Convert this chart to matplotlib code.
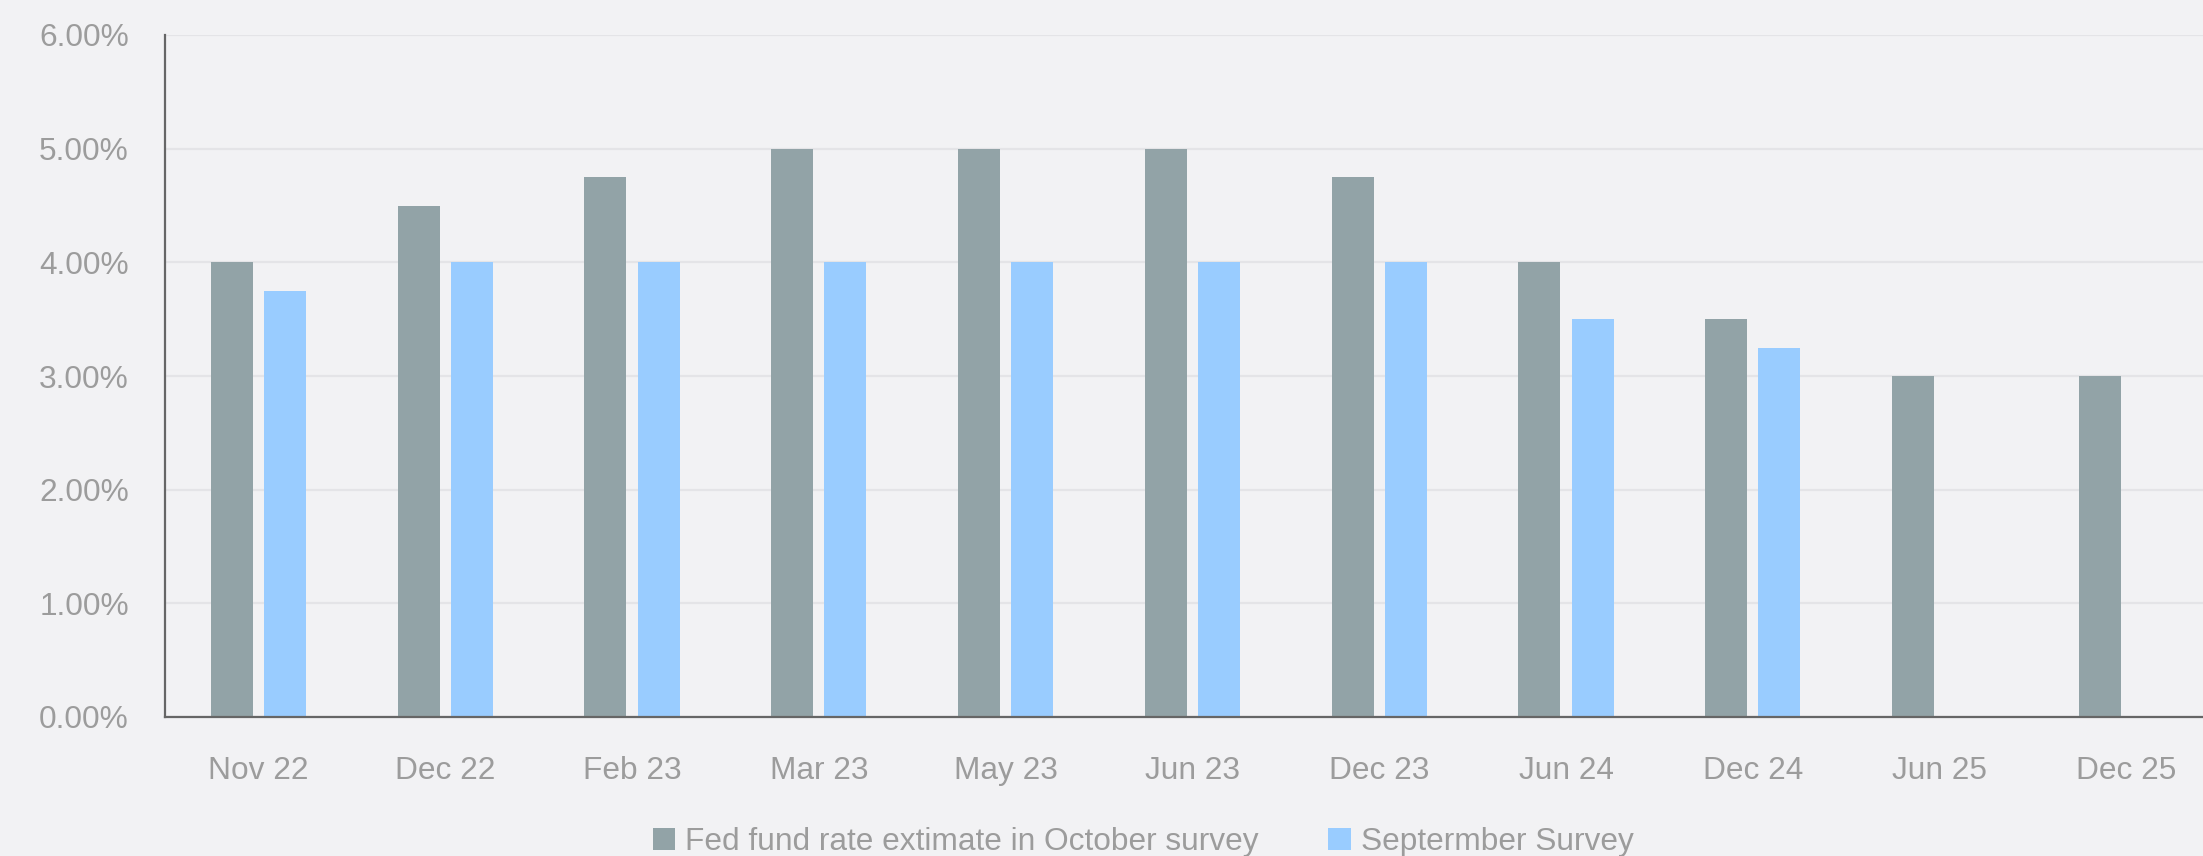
import matplotlib
matplotlib.use("Agg")
import matplotlib.pyplot as plt
from matplotlib.patches import Patch
from matplotlib.ticker import FuncFormatter
import numpy as np

categories = ["Nov 22", "Dec 22", "Feb 23", "Mar 23", "May 23", "Jun 23",
              "Dec 23", "Jun 24", "Dec 24", "Jun 25", "Dec 25"]
october_survey = [4.00, 4.50, 4.75, 5.00, 5.00, 5.00, 4.75, 4.00, 3.50, 3.00, 3.00]
september_survey = [3.75, 4.00, 4.00, 4.00, 4.00, 4.00, 4.00, 3.50, 3.25, None, None]
series_names = ["Fed fund rate extimate in October survey", "Septermber Survey"]
y_ticks = [0, 1, 2, 3, 4, 5, 6]

BG = "#f2f2f4"
GRAY = "#92a3a7"
BLUE = "#99ccff"
TEXT = "#9c9c9c"
FONT = ["Liberation Sans", "DejaVu Sans"]
FS = 22.8

W, H = 2203, 856
fig = plt.figure(figsize=(W / 100, H / 100), dpi=100, facecolor=BG)
ax = fig.add_axes([165 / W, (H - 717) / H, 11 * 186.8 / W, (717 - 35) / H])
ax.set_facecolor(BG)

x = np.arange(len(categories))
bw = 0.225
off = 0.1425
ax.bar(x - off, october_survey, width=bw, color=GRAY, zorder=3)
sx = [xi for xi, v in zip(x, september_survey) if v is not None]
sv = [v for v in september_survey if v is not None]
ax.bar(np.array(sx) + off, sv, width=bw, color=BLUE, zorder=3)

ax.set_xlim(-0.5, len(categories) - 0.5)
ax.set_ylim(0, 6)
ax.set_yticks(y_ticks)
ax.yaxis.set_major_formatter(FuncFormatter(lambda v, p: f"{v:.2f}%"))
ax.set_xticks(x)
ax.set_xticklabels(categories)

ax.grid(axis="y", color="#e4e4e7", linewidth=1.6, zorder=0)
ax.grid(axis="x", visible=False)
for s in ("top", "right"):
    ax.spines[s].set_visible(False)
for s in ("left", "bottom"):
    ax.spines[s].set_color("#666666")
    ax.spines[s].set_linewidth(1.6)
    ax.spines[s].set_zorder(4)

ax.tick_params(axis="both", length=0, labelsize=FS, labelcolor=TEXT)
ax.tick_params(axis="y", pad=26)
ax.tick_params(axis="x", pad=28)
for lbl in ax.get_xticklabels() + ax.get_yticklabels():
    lbl.set_family(FONT)

handles = [Patch(facecolor=GRAY, edgecolor="none"),
           Patch(facecolor=BLUE, edgecolor="none")]
leg = fig.legend(handles, series_names, loc="center",
                 bbox_to_anchor=(1143 / W, (H - 842) / H), ncol=2,
                 frameon=False, prop={"family": FONT, "size": FS},
                 handlelength=0.72, handleheight=0.72, handletextpad=0.3,
                 columnspacing=2.2, labelcolor=TEXT)

fig.savefig("out.png", dpi=100, facecolor=BG)
